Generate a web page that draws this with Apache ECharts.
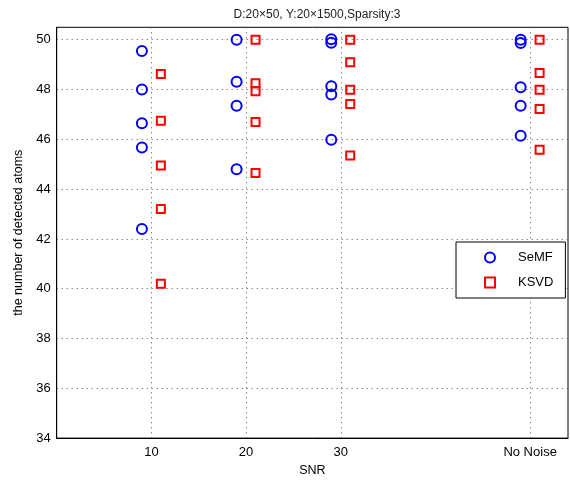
<!DOCTYPE html>
<html>
<head>
<meta charset="utf-8">
<script src="https://cdn.jsdelivr.net/npm/echarts@6/dist/echarts.min.js"></script>
<style>html,body{margin:0;padding:0;background:#fff;}#c{width:570px;height:482px;}</style>
</head>
<body>
<div id="c"></div>
<script>
// x positions of the SNR groups and their tick labels
const snrValues = [10, 20, 30, 50];
const snrLabels = ['10', '20', '30', 'No Noise'];
// detected atoms per SNR group
const semfValues = [
  [49.55, 48.0, 46.65, 45.67, 42.4],
  [50.0, 48.31, 47.35, 44.8],
  [50.02, 49.88, 48.13, 47.8, 45.98],
  [50.0, 49.87, 48.09, 47.35, 46.14]
];
const ksvdValues = [
  [48.62, 46.75, 44.95, 43.2, 40.2],
  [50.0, 48.25, 47.93, 46.7, 44.65],
  [50.0, 49.1, 47.99, 47.42, 45.35],
  [50.0, 48.66, 47.99, 47.22, 45.58]
];

const OFFSET = 1;
function build(groups, dx) {
  const out = [];
  groups.forEach((g, i) => g.forEach(v => out.push([snrValues[i] + dx, v])));
  return out;
}
const font = 'Liberation Sans, Arial, Helvetica, sans-serif';
const chart = echarts.init(document.getElementById('c'));
chart.setOption({
  animation: false,
  title: {
    text: 'D:20\u00d750, Y:20\u00d71500,Sparsity:3',
    left: 312, top: 4, textAlign: 'center',
    textStyle: {fontSize: 12, fontWeight: 'normal', color: '#222', fontFamily: font}
  },
  grid: {left: 56.7, right: 2, top: 27.3, bottom: 43.7, show: true, borderColor: '#000', borderWidth: 1, backgroundColor: '#fff'},
  legend: {
    orient: 'vertical', left: 456, top: 242,
    backgroundColor: '#fff', borderColor: '#000', borderWidth: 1,
    padding: [9, 12, 9, 28], itemGap: 12, itemWidth: 10, itemHeight: 10,
    textStyle: {fontSize: 13, color: '#000', fontFamily: font, padding: [0, 0, 0, 18]},
    data: ['SeMF', 'KSVD']
  },
  xAxis: {
    type: 'value', min: 0, max: 54,
    name: 'SNR', nameLocation: 'middle', nameGap: 22,
    nameTextStyle: {fontSize: 12.5, color: '#000', fontFamily: font},
    axisLine: {show: true, onZero: false, lineStyle: {color: '#000'}},
    axisTick: {show: false, customValues: snrValues},
    axisLabel: {customValues: snrValues, margin: 8, fontSize: 13, color: '#000', fontFamily: font,
      formatter: v => snrLabels[snrValues.indexOf(v)] || ''},
    splitLine: {show: true, lineStyle: {color: '#555', type: [1, 4], width: 1}}
  },
  yAxis: {
    type: 'value', min: 34, max: 50.5, interval: 2,
    name: 'the number of detected atoms', nameLocation: 'middle', nameGap: 27,
    nameTextStyle: {fontSize: 12.5, color: '#000', fontFamily: font},
    axisLine: {show: true, lineStyle: {color: '#000'}},
    axisTick: {show: false},
    axisLabel: {showMaxLabel: false, margin: 6, fontSize: 13, color: '#000', fontFamily: font},
    splitLine: {show: true, showMaxLine: false, lineStyle: {color: '#555', type: [1, 4], width: 1}}
  },
  series: [{
    name: 'SeMF', type: 'scatter', symbol: 'circle', symbolSize: 10,
    itemStyle: {color: 'rgba(0,0,0,0)', borderColor: '#0000ff', borderWidth: 2, opacity: 1},
    data: build(semfValues, -OFFSET)
  }, {
    name: 'KSVD', type: 'scatter', symbol: 'rect', symbolSize: 8,
    itemStyle: {color: 'rgba(0,0,0,0)', borderColor: '#ff0000', borderWidth: 2, opacity: 1},
    data: build(ksvdValues, OFFSET)
  }]
});
</script>
</body>
</html>
